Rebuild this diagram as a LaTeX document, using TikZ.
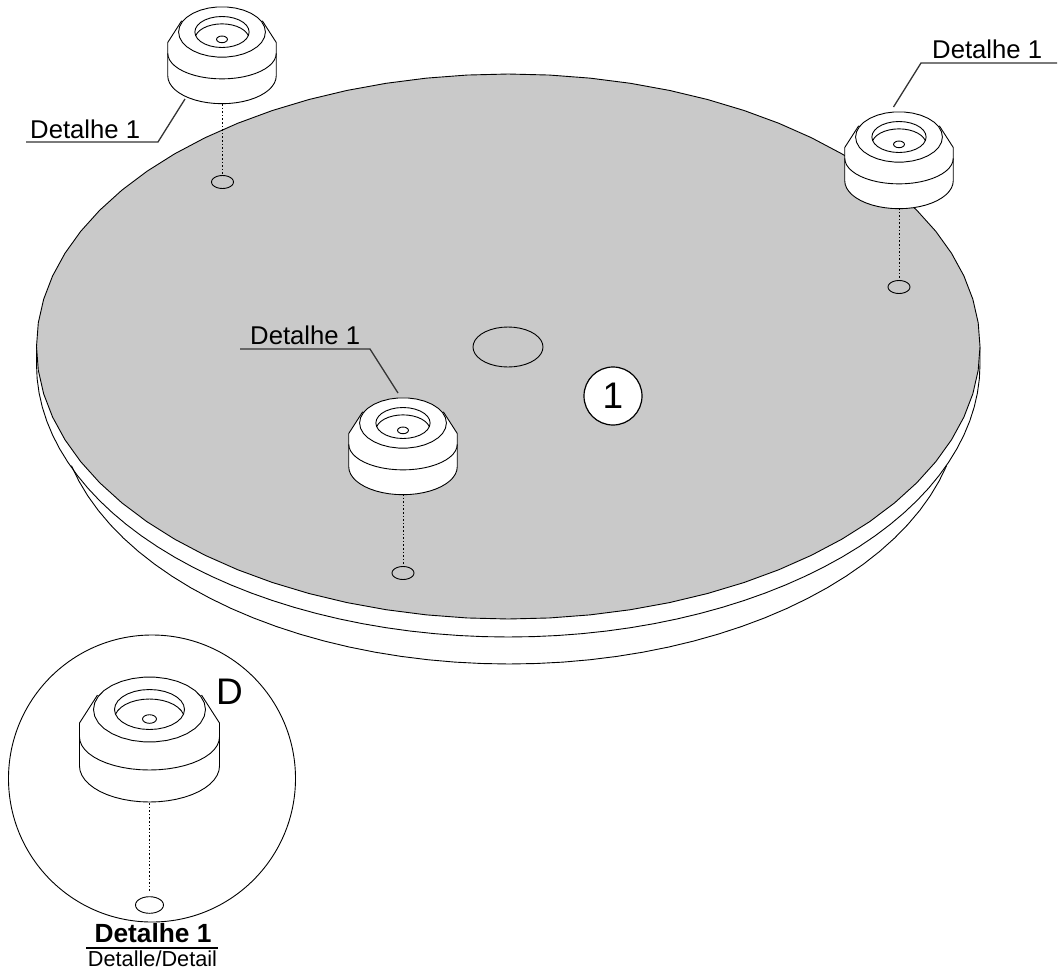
\documentclass[tikz,border=0pt]{standalone}
\usepackage{fontspec}
\setmainfont{Liberation Sans}
\definecolor{plategray}{HTML}{C9C9C9}
\tikzset{
  thinline/.style={draw=black,line width=0.9pt,line join=round},
  leader/.style={draw=black!80,line width=1.3pt,line join=round},
  dotline/.style={draw=black,line width=1pt,dash pattern=on 1.6pt off 2pt},
  lbl/.style={inner sep=0pt,font=\fontsize{25.7}{25.7}\selectfont,anchor=base west},
}
% elliptical polyline: cx, cy, rx, ry, from angle, to angle, samples (y runs downward)
\newcommand{\elarc}[7]{plot[domain=#5:#6,samples=#7] ({#1+#3*cos(\x)},{#2+#4*sin(\x)})}
\newcommand{\lnarc}[7]{-- plot[domain=#5:#6,samples=#7] ({#1+#3*cos(\x)},{#2+#4*sin(\x)})}
\newcommand{\foot}[3]{%
  \begin{scope}[shift={(#1,#2)},x=#3 pt,y=-#3 pt,thinline]
    \path[fill=white,draw=none] (-52,-14.5) -- (-70,13.5) -- (-70,56.5) \lnarc{0}{56.5}{70}{36}{180}{0}{25} -- (70,13.5) -- (52,-14.5) -- cycle;
    \draw[fill=white] \elarc{0}{0}{56}{32.5}{0}{360}{31} -- cycle;
    \draw (-52,-14.5) -- (-70,13.5) -- (-70,56.5) \lnarc{0}{56.5}{70}{36}{180}{0}{25} -- (70,13.5) -- (52,-14.5);
    \draw \elarc{0}{27.5}{70}{33}{180}{0}{25};
    \draw \elarc{0}{0}{35}{20}{0}{360}{29} -- cycle;
    \draw \elarc{0}{9.5}{35}{20}{193.7}{346.3}{15};
    \draw \elarc{0}{9.5}{7}{4.3}{0}{360}{17} -- cycle;
  \end{scope}}
\begin{document}
\begin{tikzpicture}[x=1pt,y=-1pt]
\useasboundingbox (0,0) rectangle (1061,970);
% disc
\draw[thinline] \elarc{509}{402.4}{451}{261.6}{14}{166}{45};
\draw[thinline] (36.5,346.5) \lnarc{508.25}{364.5}{471.75}{272.5}{180}{0}{61} -- (980,346.5);
\path[thinline,fill=plategray] \elarc{508.25}{346.5}{471.75}{272.5}{0}{360}{73} -- cycle;
% holes
\path[thinline] \elarc{508}{347}{35}{20}{0}{360}{37} -- cycle;
\path[thinline] \elarc{222.5}{182}{11}{6.5}{0}{360}{25} -- cycle;
\path[thinline] \elarc{899}{287}{11}{6.5}{0}{360}{25} -- cycle;
\path[thinline] \elarc{403}{573}{11}{6.5}{0}{360}{25} -- cycle;
% feet
\foot{222}{32}{0.775}
\foot{899}{137}{0.775}
\foot{403}{423}{0.775}
% dotted
\coordinate (f1a) at (222.5,104); \coordinate (f1b) at (222.5,175);
\coordinate (f2a) at (899,208); \coordinate (f2b) at (899,280);
\coordinate (f3a) at (403,494); \coordinate (f3b) at (403,566);
\coordinate (f4a) at (149.5,803); \coordinate (f4b) at (149.5,892);
\draw[dotline] (f1a) -- (f1b);
\draw[dotline] (f2a) -- (f2b);
\draw[dotline] (f3a) -- (f3b);
% leaders
\node[lbl] (t1) at (30,138) {Detalhe 1};
\node[lbl] (t2) at (932,58) {Detalhe 1};
\node[lbl] (t3) at (250,344) {Detalhe 1};
\coordinate (l1a) at (26,142); \coordinate (l1b) at (158,142); \coordinate (l1c) at (185,99);
\coordinate (l2a) at (1057,63); \coordinate (l2b) at (921,63); \coordinate (l2c) at (893.5,107);
\coordinate (l3a) at (240,349); \coordinate (l3b) at (370,349); \coordinate (l3c) at (398,393);
\draw[leader] (l1a) -- (l1b) -- (l1c);
\draw[leader] (l2a) -- (l2b) -- (l2c);
\draw[leader] (l3a) -- (l3b) -- (l3c);
% balloon
\node[circle,draw=black,line width=1.2pt,fill=white,minimum size=58pt,inner sep=0pt,font=\fontsize{37}{37}\selectfont] (one) at (613,396) {1};
% detail
\node[circle,draw=black,line width=0.9pt,minimum size=287pt,inner sep=0pt] (detail) at (152,778.5) {};
\foot{149.5}{709.5}{1}
\draw[dotline] (f4a) -- (f4b);
\path[thinline] \elarc{149.5}{905}{14}{8.3}{0}{360}{29} -- cycle;
\node[inner sep=0pt,anchor=base west,font=\fontsize{37}{37}\selectfont] (dd) at (216,704) {D};
\node[inner sep=0pt,anchor=base,font=\fontsize{26.3}{26.3}\selectfont\bfseries] (tt) at (153,942) {Detalhe 1};
\coordinate (ra) at (86,948); \coordinate (rb) at (218,948);
\draw[draw=black,line width=1.6pt] (ra) -- (rb);
\node[inner sep=0pt,anchor=base,font=\fontsize{21.7}{21.7}\selectfont] (st) at (152.5,966) {Detalle/Detail};
\end{tikzpicture}
\end{document}
